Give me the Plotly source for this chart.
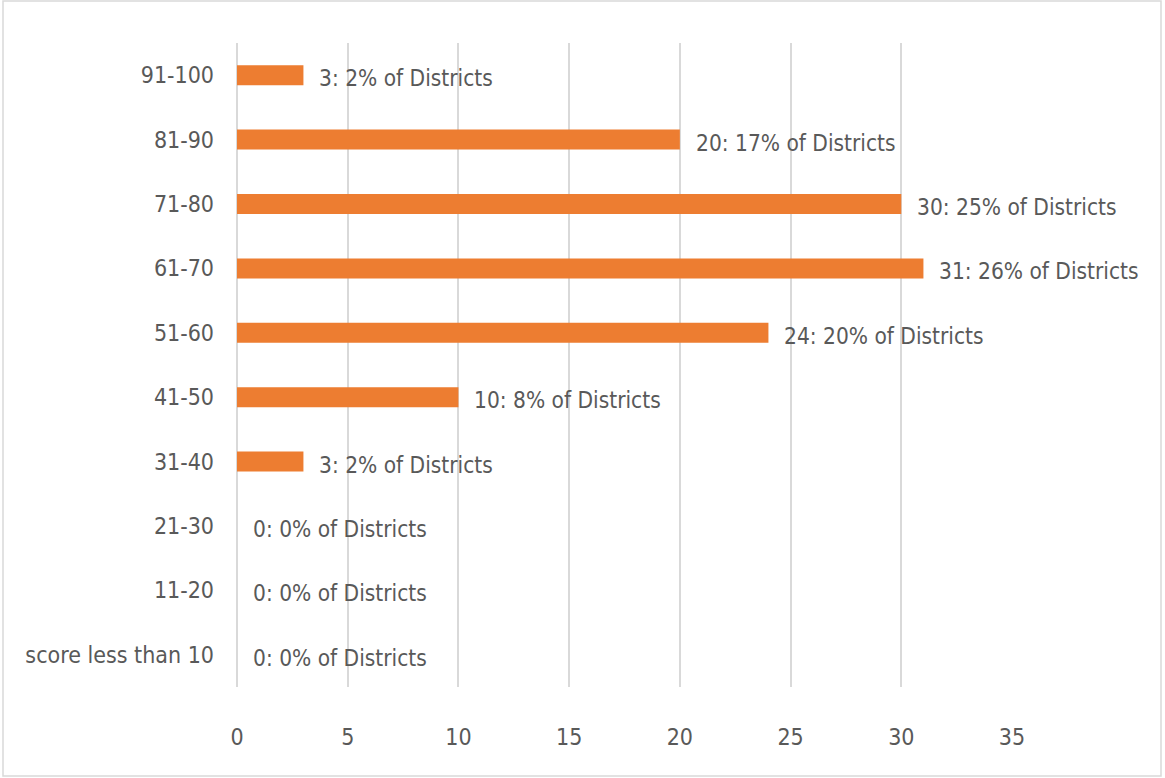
import plotly.graph_objects as go

categories = ["score less than 10", "11-20", "21-30", "31-40", "41-50",
              "51-60", "61-70", "71-80", "81-90", "91-100"]
counts = [0, 0, 0, 3, 10, 24, 31, 30, 20, 3]
percents = [0, 0, 0, 2, 8, 20, 26, 25, 17, 2]
x_ticks = [0, 5, 10, 15, 20, 25, 30, 35]

FONT = "Liberation Sans Narrow, Arial Narrow, DejaVu Sans Condensed, sans-serif"
W, H = 1165, 778
L, R, T, B = 237, 153, 43, 91
pw, ph = W - L - R, H - T - B

fig = go.Figure(go.Bar(
    y=categories, x=counts, orientation="h",
    marker=dict(color="#ED7D31", line=dict(width=0)),
    width=0.31,
))

for c, n, p in zip(categories, counts, percents):
    fig.add_annotation(x=n, y=c, xref="x", yref="y", text=f"{n}: {p}% of Districts",
                       showarrow=False, xanchor="left", yanchor="middle",
                       xshift=14, yshift=-3,
                       font=dict(family=FONT, size=22.5, color="#595959"))

fig.add_shape(type="rect", xref="paper", yref="paper",
              x0=(3 - L) / pw, x1=(1161 - L) / pw,
              y0=(H - B - 776) / ph, y1=(H - B - 1) / ph,
              line=dict(color="#D9D9D9", width=1.5), layer="below")

fig.update_layout(
    width=W, height=H,
    margin=dict(l=L, r=R, t=T, b=B),
    paper_bgcolor="white", plot_bgcolor="white",
    showlegend=False,
    font=dict(family=FONT, size=23, color="#595959"),
    xaxis=dict(range=[0, 35], tickvals=x_ticks, showgrid=True,
               gridcolor="#D9D9D9", gridwidth=2,
               zeroline=True, zerolinecolor="#D9D9D9", zerolinewidth=2,
               layer="below traces",
               showline=False, ticks="", ticklabelstandoff=34,
               tickfont=dict(family=FONT, size=23, color="#595959")),
    yaxis=dict(categoryorder="array", categoryarray=categories,
               showgrid=False, zeroline=False, showline=False, ticks="",
               ticklabelstandoff=22,
               tickfont=dict(family=FONT, size=23, color="#595959")),
)

fig.write_html("out.html", config={"displayModeBar": False},
               post_script="document.body.style.margin='0px';")
